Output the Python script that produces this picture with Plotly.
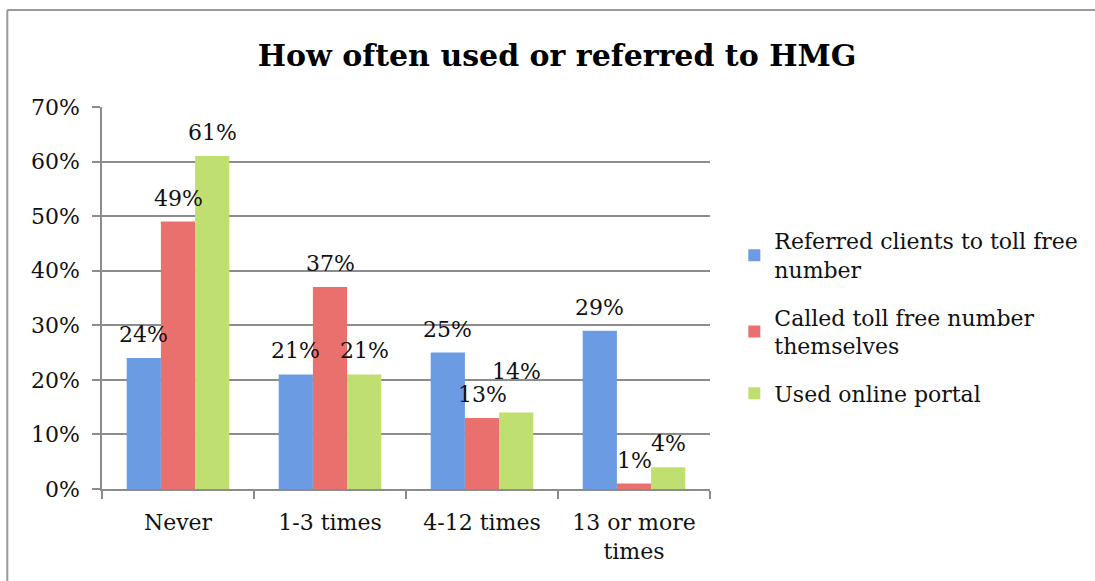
import plotly.graph_objects as go

categories = ["Never", "1-3 times", "4-12 times", "13 or more<br>times"]
series_names = ["Referred clients to toll free<br>number",
                "Called toll free number<br>themselves",
                "Used online portal"]
referred = [0.24, 0.21, 0.25, 0.29]
called = [0.49, 0.37, 0.13, 0.01]
portal = [0.61, 0.21, 0.14, 0.04]
tick_vals = [0, 0.1, 0.2, 0.3, 0.4, 0.5, 0.6, 0.7]
tick_text = ["0%", "10%", "20%", "30%", "40%", "50%", "60%", "70%"]

colors = ["#6b9be3", "#e9706d", "#bfe070"]
FONT = "DejaVu Serif"
FS = 22
values = [referred, called, portal]

fig = go.Figure()
for k, (name, vals, col) in enumerate(zip(series_names, values, colors)):
    fig.add_trace(go.Bar(x=categories, y=vals, name=name, legendgroup=f"g{k}",
                         marker=dict(color=col, line=dict(width=0))))

bargap = 0.325
bw = (1 - bargap) / 3
annotations = []
for k, vals in enumerate(values):
    for i, v in enumerate(vals):
        shift = 9
        # lift a label that would collide with its left neighbour's label
        if k > 0 and abs(v - values[k - 1][i]) < 0.025:
            shift += 18
        annotations.append(dict(
            x=i + (k - 1) * bw, y=v, xref="x", yref="y",
            text=f"{round(v*100)}%", showarrow=False,
            yanchor="bottom", yshift=shift,
            font=dict(family=FONT, size=FS, color="#111")))

fig.update_layout(
    width=1095, height=581,
    paper_bgcolor="white", plot_bgcolor="white",
    margin=dict(l=102, r=383, t=107, b=92),
    barmode="group", bargap=bargap, bargroupgap=0,
    title=dict(text="<b>How often used or referred to HMG</b>",
               x=557 / 1095, xanchor="center", y=1 - 55 / 581, yanchor="middle",
               font=dict(family=FONT, size=30, color="black")),
    font=dict(family=FONT, size=FS, color="#111"),
    legend=dict(x=1.04, y=0.45, xanchor="left", yanchor="middle",
                font=dict(family=FONT, size=FS, color="#111"),
                tracegroupgap=16, itemsizing="constant"),
    annotations=annotations,
    shapes=[dict(type="line", xref="paper", yref="paper",
                 x0=(7 - 102) / 610, x1=(7 - 102) / 610,
                 y0=-0.4, y1=(489 - 10) / 382,
                 line=dict(color="#999", width=2)),
            dict(type="line", xref="paper", yref="paper",
                 x0=(7 - 102) / 610, x1=1.7,
                 y0=(489 - 10) / 382, y1=(489 - 10) / 382,
                 line=dict(color="#999", width=2))],
)
fig.update_yaxes(range=[0, 0.7], tickvals=tick_vals, ticktext=tick_text,
                 showgrid=True, gridcolor="#8c8c8c", gridwidth=1.5,
                 showline=True, linecolor="#8c8c8c", linewidth=1.5,
                 ticks="outside", ticklen=8, tickcolor="#8c8c8c", tickwidth=1.5,
                 ticklabelstandoff=8,
                 zeroline=False, tickfont=dict(family=FONT, size=FS, color="#111"))
fig.update_xaxes(showline=True, linecolor="#8c8c8c", linewidth=1.5,
                 ticks="outside", ticklen=8, tickcolor="#8c8c8c", tickwidth=1.5,
                 tickson="boundaries", showgrid=False, ticklabelstandoff=13,
                 tickfont=dict(family=FONT, size=FS, color="#111"))

fig.write_html("out.html", config={"displayModeBar": False},
               post_script="document.body.style.margin='0px';")
